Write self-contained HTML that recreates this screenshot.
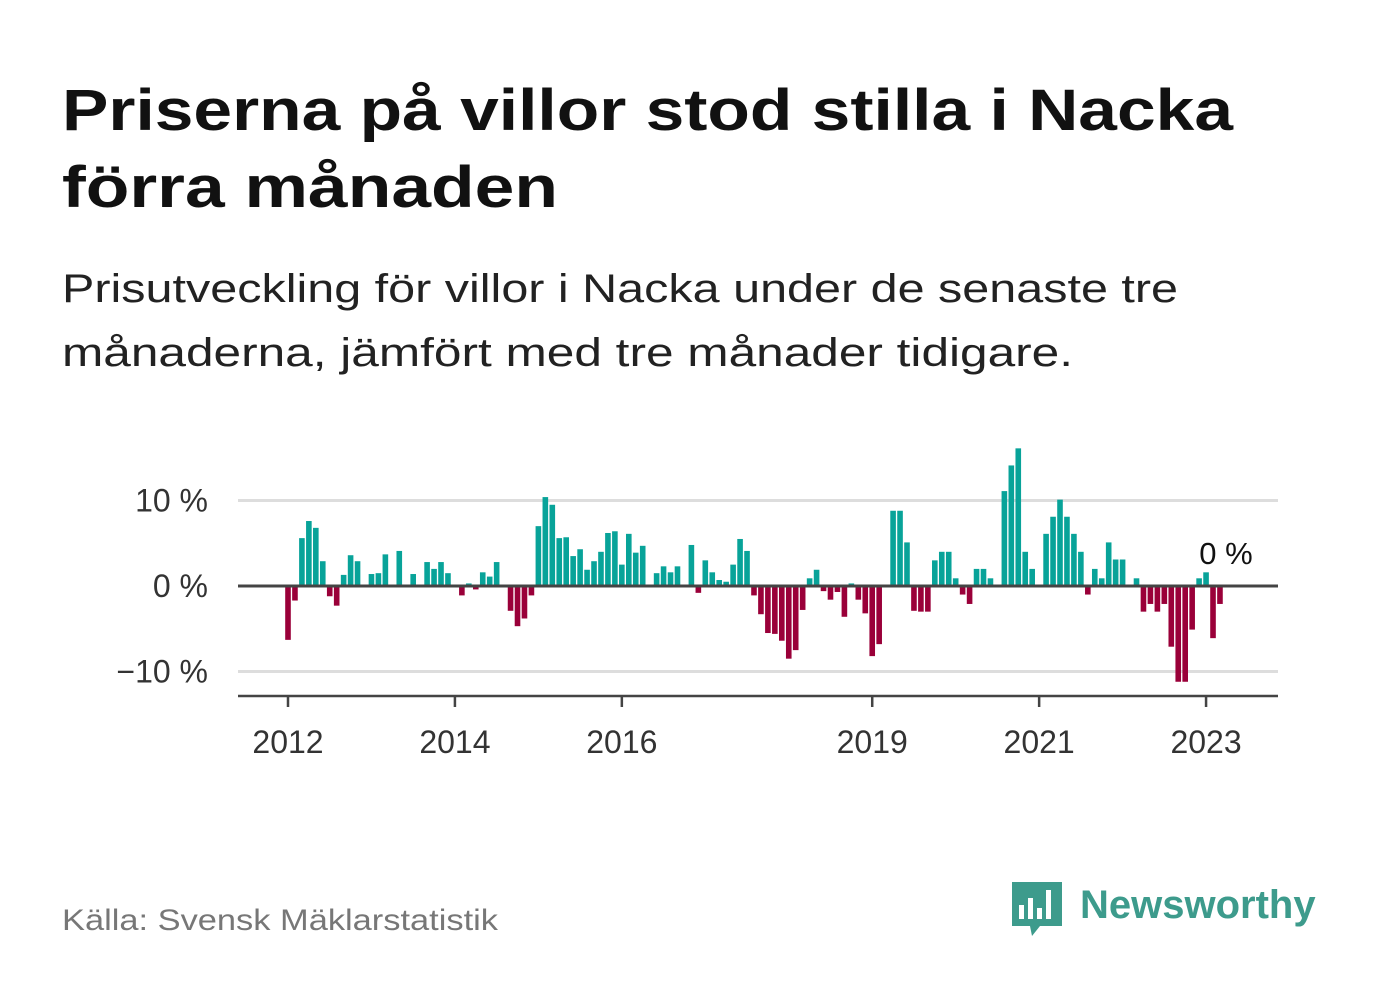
<!DOCTYPE html>
<html><head><meta charset="utf-8"><style>
html,body{margin:0;padding:0;background:#fff;width:1382px;height:999px;overflow:hidden}
body{font-family:"Liberation Sans",sans-serif}
</style></head><body>
<svg width="1382" height="999" viewBox="0 0 1382 999" xmlns="http://www.w3.org/2000/svg">
<text x="62" y="130" font-size="58" font-weight="bold" fill="#111" textLength="1171" lengthAdjust="spacingAndGlyphs">Priserna på villor stod stilla i Nacka</text>
<text x="62" y="207" font-size="58" font-weight="bold" fill="#111" textLength="496" lengthAdjust="spacingAndGlyphs">förra månaden</text>
<text x="62" y="302" font-size="40" fill="#222" textLength="1116" lengthAdjust="spacingAndGlyphs">Prisutveckling för villor i Nacka under de senaste tre</text>
<text x="62" y="366" font-size="40" fill="#222" textLength="1011" lengthAdjust="spacingAndGlyphs">månaderna, jämfört med tre månader tidigare.</text>
<g id="grid"></g>
<g id="bars"></g>
<g id="axes"></g>
<text x="1226" y="564" font-size="31" fill="#111" text-anchor="middle">0 %</text>
<text x="62" y="930" font-size="30" fill="#777" textLength="436" lengthAdjust="spacingAndGlyphs">Källa: Svensk Mäklarstatistik</text>
<g>
<path d="M1012 882 h50 v44 h-22 l-8 10 l-2 -10 h-18 z" fill="#3d9b8c"/>
<rect x="1019" y="905" width="5" height="14" fill="#fff"/>
<rect x="1028" y="898" width="5" height="21" fill="#fff"/>
<rect x="1037" y="908" width="5" height="11" fill="#fff"/>
<rect x="1046" y="890" width="5" height="29" fill="#fff"/>
<text x="1080" y="918" font-size="40" font-weight="bold" fill="#3d9b8c">Newsworthy</text>
</g>
</svg>
<script>
const values = [-6.3,-1.7,5.6,7.6,6.8,2.9,-1.2,-2.3,1.3,3.6,2.9,0,
1.4,1.5,3.7,0,4.1,0,1.4,0,2.8,2.0,2.8,1.5,
0,-1.1,0.3,-0.4,1.6,1.1,2.8,0,-2.9,-4.7,-3.8,-1.1,
7.0,10.4,9.5,5.6,5.7,3.5,4.3,1.9,2.9,4.0,6.2,6.4,
2.5,6.1,3.9,4.7,0,1.5,2.3,1.6,2.3,0,4.8,-0.8,
3.0,1.6,0.7,0.5,2.5,5.5,4.1,-1.1,-3.3,-5.5,-5.6,-6.4,
-8.5,-7.5,-2.8,0.9,1.9,-0.6,-1.6,-0.7,-3.6,0.3,-1.6,-3.2,
-8.2,-6.8,0,8.8,8.8,5.1,-2.9,-3.0,-3.0,3.0,4.0,4.0,
0.9,-1.0,-2.1,2.0,2.0,0.9,0,11.1,14.1,16.1,4.0,2.0,
0,6.1,8.1,10.1,8.1,6.1,4.0,-1.0,2.0,0.9,5.1,3.1,
3.1,0,0.9,-3.0,-2.1,-3.0,-2.1,-7.1,-11.2,-11.2,-5.1,0.9,
1.6,-6.1,-2.1,0];
const yTicks = [10,0,-10];
const yTickLabels = ["10 %","0 %","−10 %"];
const xTickYears = [2012,2014,2016,2019,2021,2023];
const startYear = 2012;
const NS="http://www.w3.org/2000/svg";
function xs(i){return 288 + i*6.955;}
function ys(v){return 586 - v*8.55;}
function mk(tag,attrs,parent){const e=document.createElementNS(NS,tag);for(const k in attrs)e.setAttribute(k,attrs[k]);parent.appendChild(e);return e;}
const grid=document.getElementById('grid'),bars=document.getElementById('bars'),axes=document.getElementById('axes');
yTicks.forEach((t,k)=>{
  if(t!==0){const l=mk('line',{x1:238,x2:1278,y1:ys(t),y2:ys(t),stroke:'#dddddd','stroke-width':3},grid);
  
  }
  const tx=mk('text',{x:208,y:ys(t)+11,'font-size':32,fill:'#333','text-anchor':'end'},grid);
  tx.textContent=yTickLabels[k];
  
  
});
values.forEach((v,i)=>{
  if(v===0)return;
  const y0=ys(0),y1=ys(v);
  const r=mk('rect',{x:xs(i)-2.8,width:5.6,y:Math.min(y0,y1),height:Math.abs(y1-y0),fill:v>0?'#08a399':'#9a0039'},bars);
  
  
});
const z=mk('line',{x1:238,x2:1278,y1:ys(0),y2:ys(0),stroke:'#444','stroke-width':3},axes);


const ax=mk('line',{x1:238,x2:1278,y1:696,y2:696,stroke:'#444','stroke-width':2.5},axes);


xTickYears.forEach(yr=>{
  const x=xs((yr-startYear)*12);
  const t=mk('line',{x1:x,x2:x,y1:696,y2:707,stroke:'#444','stroke-width':2.5},axes);
  
  
  const l=mk('text',{x:x,y:753,'font-size':32,fill:'#333','text-anchor':'middle'},axes);
  l.textContent=yr;
  
  
});
</script>
</body></html>
